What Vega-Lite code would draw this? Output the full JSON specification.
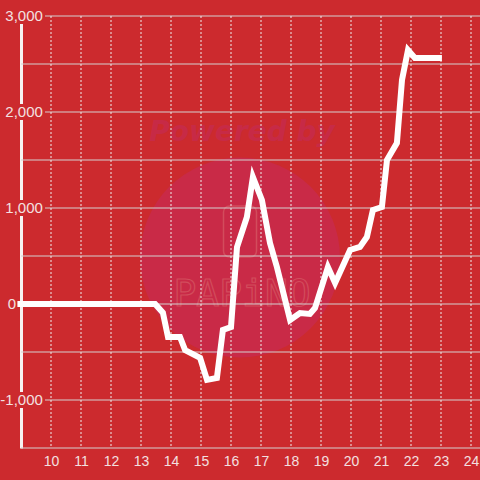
{
  "$schema": "https://vega.github.io/schema/vega-lite/v6.json",
  "autosize": "none",
  "width": 459,
  "height": 432,
  "padding": {"left": 21, "top": 16, "right": 0, "bottom": 32},
  "background": "#cc2a2e",
  "config": {"view": {"stroke": null}, "font": "Liberation Sans",
    "axisX": {"labelOverlap": false, "labelFlush": false, "title": null, "domain": false, "ticks": false,
      "grid": false, "labelColor": "#f3e0e0",
      "labelFontSize": 14, "labelPadding": 6, "labelFont": "Liberation Sans", "zindex": 1},
    "axisY": {"title": null, "labels": false, "ticks": false, "grid": false, "domain": true,
      "domainColor": "#f7f2f2", "domainWidth": 3, "zindex": 0}
  },
  "datasets": {
    "series": [
      {"t": 8.88, "v": 0}, {"t": 13.47, "v": 0}, {"t": 13.73, "v": -90}, {"t": 13.9, "v": -344},
      {"t": 14.3, "v": -344}, {"t": 14.47, "v": -480}, {"t": 14.97, "v": -560}, {"t": 15.2, "v": -790},
      {"t": 15.53, "v": -770}, {"t": 15.73, "v": -270}, {"t": 16.0, "v": -240}, {"t": 16.2, "v": 594},
      {"t": 16.53, "v": 906}, {"t": 16.73, "v": 1323}, {"t": 17.03, "v": 1083}, {"t": 17.3, "v": 635},
      {"t": 17.53, "v": 385}, {"t": 17.97, "v": -167}, {"t": 18.3, "v": -94}, {"t": 18.63, "v": -104},
      {"t": 18.8, "v": -42}, {"t": 19.23, "v": 385}, {"t": 19.47, "v": 219}, {"t": 19.97, "v": 563},
      {"t": 20.3, "v": 594}, {"t": 20.53, "v": 698}, {"t": 20.73, "v": 979}, {"t": 21.03, "v": 1010},
      {"t": 21.2, "v": 1500}, {"t": 21.53, "v": 1677}, {"t": 21.7, "v": 2333}, {"t": 21.9, "v": 2646},
      {"t": 22.13, "v": 2563}, {"t": 23.03, "v": 2563}
    ],
    "ygrid": [
      {"g": -1500}, {"g": -1000}, {"g": -500}, {"g": 0}, {"g": 500}, {"g": 1000},
      {"g": 1500}, {"g": 2000}, {"g": 2500}, {"g": 3000}
    ],
    "xgrid": [
      {"h": 10}, {"h": 11}, {"h": 12}, {"h": 13}, {"h": 14}, {"h": 15}, {"h": 16}, {"h": 17},
      {"h": 18}, {"h": 19}, {"h": 20}, {"h": 21}, {"h": 22}, {"h": 23}, {"h": 24}
    ],
    "ylabels": [
      {"lv": 3000, "label": "3,000"}, {"lv": 2000, "label": "2,000"}, {"lv": 1000, "label": "1,000"},
      {"lv": 0, "label": "0"}, {"lv": -1000, "label": "-1,000"}
    ],
    "mark": [
      {"mt": 16.3, "mv": 484, "text": "Powered by", "tt": 16.37, "tv": 1781, "logo": "PAPiNO", "lt": 16.37, "lv": 95,
       "rt": 15.75, "rt2": 16.85, "rv": 1020, "rv2": 490}
    ]
  },
  "layer": [
    {
      "data": {"name": "mark"},
      "mark": {"type": "point", "filled": true, "size": 40000, "color": "#c92a47", "opacity": 1, "strokeWidth": 0},
      "encoding": {
        "x": {"field": "mt", "type": "quantitative", "scale": {"domain": [9, 24.3], "nice": false, "zero": false, "padding": 0},
          "axis": {"values": [10,11,12,13,14,15,16,17,18,19,20,21,22,23,24]}},
        "y": {"field": "mv", "type": "quantitative", "scale": {"domain": [-1500, 3000], "nice": false, "zero": false, "padding": 0}}
      }
    },
    {
      "data": {"name": "mark"},
      "mark": {"type": "text", "font": "DejaVu Sans", "fontSize": 28, "fontWeight": "bold", "fontStyle": "italic", "color": "#c72a46", "align": "center", "baseline": "middle"},
      "encoding": {
        "x": {"field": "tt", "type": "quantitative", "axis": {"values": [10,11,12,13,14,15,16,17,18,19,20,21,22,23,24]}},
        "y": {"field": "tv", "type": "quantitative"},
        "text": {"field": "text"}
      }
    },
    {
      "data": {"name": "mark"},
      "mark": {"type": "rect", "fill": "transparent", "stroke": "#d24c5c", "strokeWidth": 1.5, "cornerRadius": 6},
      "encoding": {
        "x": {"field": "rt", "type": "quantitative", "axis": {"values": [10,11,12,13,14,15,16,17,18,19,20,21,22,23,24]}},
        "x2": {"field": "rt2"},
        "y": {"field": "rv", "type": "quantitative"},
        "y2": {"field": "rv2"}
      }
    },
    {
      "data": {"name": "mark"},
      "mark": {"type": "text", "font": "DejaVu Sans Mono", "fontSize": 38, "fill": "transparent", "stroke": "#d24c5c", "strokeWidth": 1.2, "align": "center", "baseline": "middle"},
      "encoding": {
        "x": {"field": "lt", "type": "quantitative", "axis": {"values": [10,11,12,13,14,15,16,17,18,19,20,21,22,23,24]}},
        "y": {"field": "lv", "type": "quantitative"},
        "text": {"field": "logo"}
      }
    },
    {
      "data": {"name": "ygrid"},
      "mark": {"type": "rule", "color": "#d4d0d0", "strokeWidth": 1.2},
      "encoding": {"y": {"field": "g", "type": "quantitative"}}
    },
    {
      "data": {"name": "xgrid"},
      "mark": {"type": "rule", "color": "#eeeeee", "strokeWidth": 1, "strokeDash": [2, 2]},
      "encoding": {"x": {"field": "h", "type": "quantitative", "axis": {"values": [10,11,12,13,14,15,16,17,18,19,20,21,22,23,24]}}}
    },
    {
      "data": {"name": "ylabels"},
      "transform": [{"filter": "datum.lv != 0"}],
      "mark": {"type": "bar", "color": "#cc2a2e", "size": 16, "clip": false},
      "encoding": {
        "x": {"datum": 8.45, "type": "quantitative", "axis": {"values": [10,11,12,13,14,15,16,17,18,19,20,21,22,23,24]}},
        "x2": {"datum": 9.8},
        "y": {"field": "lv", "type": "quantitative"}
      }
    },
    {
      "data": {"name": "ylabels"},
      "transform": [{"filter": "datum.lv != 0"}],
      "mark": {"type": "text", "font": "Liberation Sans", "fontSize": 15, "color": "#f3e0e0", "align": "right", "baseline": "middle", "clip": false},
      "encoding": {
        "x": {"datum": 9.73, "type": "quantitative", "axis": {"values": [10,11,12,13,14,15,16,17,18,19,20,21,22,23,24]}},
        "y": {"field": "lv", "type": "quantitative"},
        "text": {"field": "label"}
      }
    },
    {
      "data": {"name": "ylabels"},
      "transform": [{"filter": "datum.lv == 0"}],
      "mark": {"type": "text", "font": "Liberation Sans", "fontSize": 15, "color": "#f3e0e0", "align": "right", "baseline": "middle", "clip": false},
      "encoding": {
        "x": {"datum": 8.84, "type": "quantitative", "axis": {"values": [10,11,12,13,14,15,16,17,18,19,20,21,22,23,24]}},
        "y": {"field": "lv", "type": "quantitative"},
        "text": {"field": "label"}
      }
    },
    {
      "data": {"name": "series"},
      "mark": {"type": "line", "color": "#ffffff", "strokeWidth": 6, "strokeCap": "butt", "strokeJoin": "miter", "clip": false},
      "encoding": {
        "x": {"field": "t", "type": "quantitative", "axis": {"values": [10,11,12,13,14,15,16,17,18,19,20,21,22,23,24]}},
        "y": {"field": "v", "type": "quantitative"}
      }
    }
  ]
}
